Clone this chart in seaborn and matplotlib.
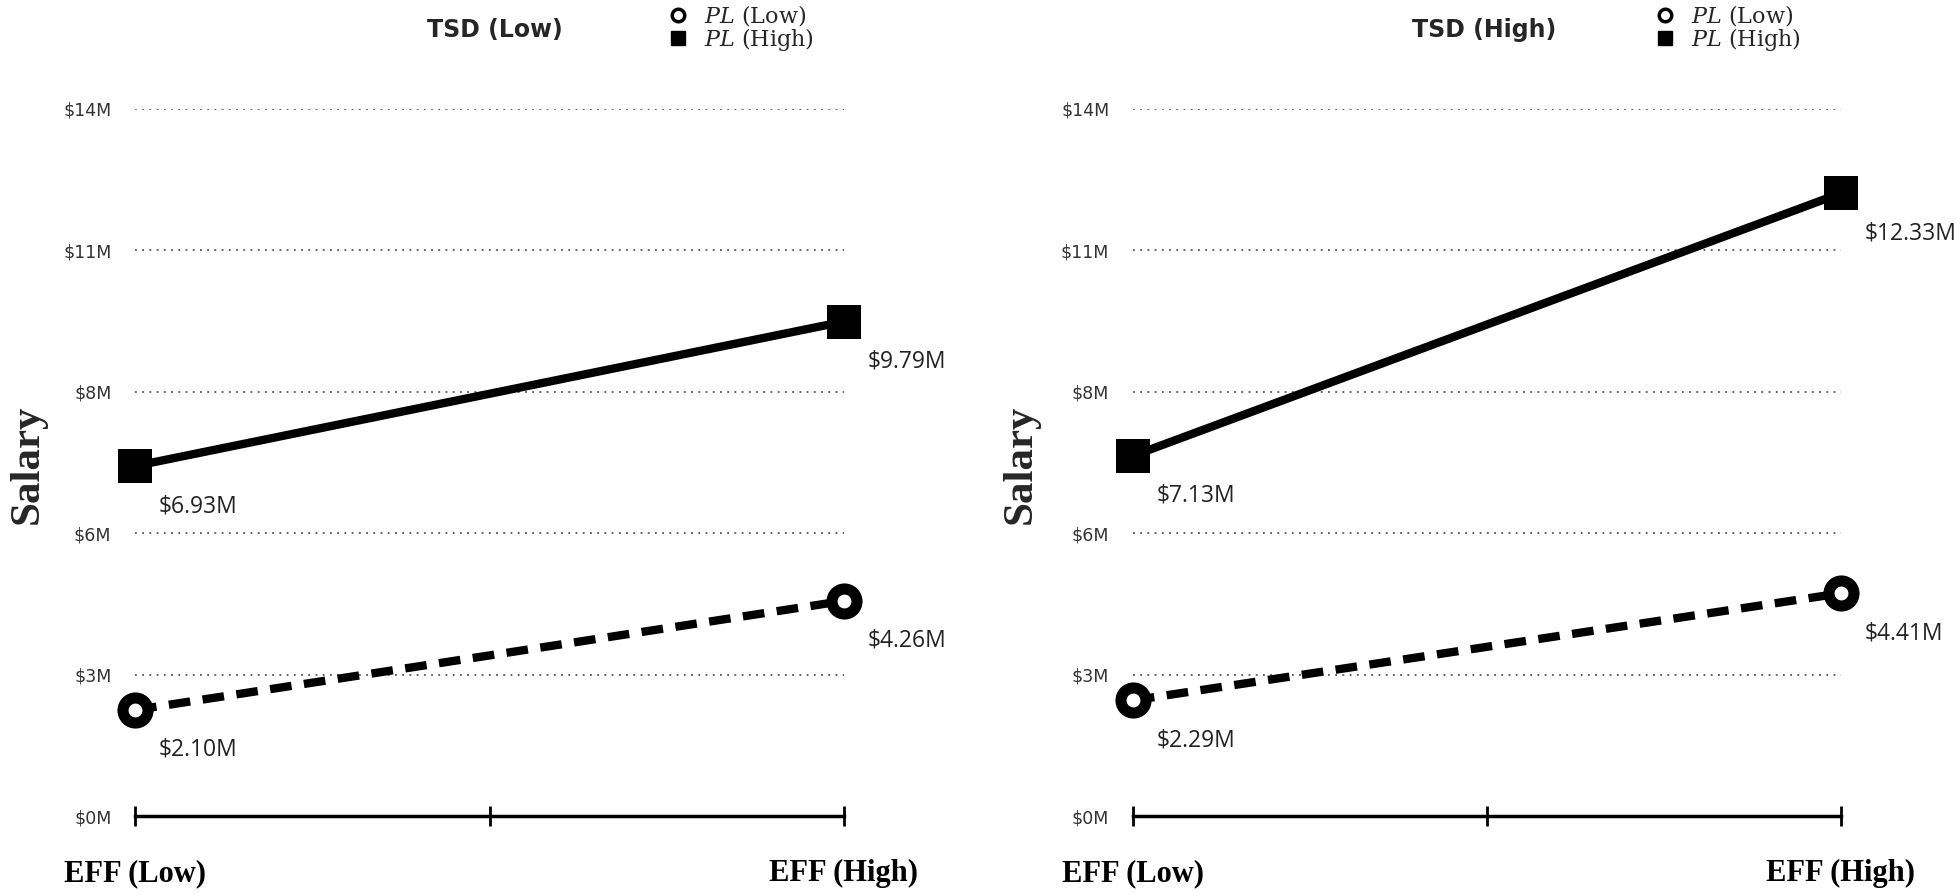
import matplotlib
matplotlib.use('Agg')
import matplotlib.pyplot as plt
import seaborn as sns
import pandas as pd
from matplotlib.lines import Line2D
from matplotlib.ticker import FuncFormatter

# Data
panels = ['TSD (Low)', 'TSD (High)']
eff_labels = ['EFF (Low)', 'EFF (High)']
eff_pos = [0, 1]
pl_low = {'TSD (Low)': [2.10, 4.26], 'TSD (High)': [2.29, 4.41]}
pl_high = {'TSD (Low)': [6.93, 9.79], 'TSD (High)': [7.13, 12.33]}
y_ticks = [0, 2.8, 5.6, 8.4, 11.2, 14]

rows = []
for p in panels:
    for x, v in zip(eff_pos, pl_low[p]):
        rows.append({'panel': p, 'eff': x, 'pl': 'PL (Low)', 'salary': v})
    for x, v in zip(eff_pos, pl_high[p]):
        rows.append({'panel': p, 'eff': x, 'pl': 'PL (High)', 'salary': v})
df = pd.DataFrame(rows)

sns.set_style('white')
plt.rcParams['mathtext.fontset'] = 'custom'
plt.rcParams['mathtext.it'] = 'DejaVu Serif:italic'
plt.rcParams['mathtext.rm'] = 'DejaVu Serif'

sans = ['DejaVu Sans']
serif = ['Liberation Serif', 'DejaVu Serif']

fig = plt.figure(figsize=(19.6, 8.94), dpi=100)
ax_pos = [[0.0689, 0.0872, 0.3617, 0.791], [0.578, 0.0872, 0.3612, 0.791]]
ylabel_x = [-0.124, -0.131]
legend_x = [0.735, 0.720]
title_x = [0.508, 0.496]

for i, p in enumerate(panels):
    ax = fig.add_axes(ax_pos[i])
    sub = df[df['panel'] == p]

    # PL (Low): dashed with open circles
    sns.lineplot(data=sub[sub['pl'] == 'PL (Low)'], x='eff', y='salary', ax=ax,
                 color='black', lw=6, linestyle=(0, (2.6, 1.5)), marker='o',
                 markersize=18, markerfacecolor='white', markeredgecolor='black',
                 markeredgewidth=8, errorbar=None, clip_on=False, zorder=3)
    # PL (High): solid with squares
    sns.lineplot(data=sub[sub['pl'] == 'PL (High)'], x='eff', y='salary', ax=ax,
                 color='black', lw=6, marker='s', markersize=24,
                 markeredgewidth=0, errorbar=None, clip_on=False, zorder=3)

    for series in (pl_low[p], pl_high[p]):
        for x, v in zip(eff_pos, series):
            ax.annotate(f"${v:.2f}M", (x, v), xytext=(24, -40),
                        textcoords='offset pixels', ha='left', va='center',
                        fontsize=16.5, family='Open Sans', color='#222222')

    ax.set_xlim(0, 1)
    ax.set_ylim(0, 14)
    ax.set_yticks(y_ticks)
    ax.yaxis.set_major_formatter(FuncFormatter(lambda v, _: f"${v:.0f}M"))
    ax.set_xticks([0, 0.5, 1])
    ax.set_xticklabels([eff_labels[0], '', eff_labels[1]])
    for lab in ax.get_xticklabels():
        lab.set_family(serif)
        lab.set_fontweight('bold')
        lab.set_fontsize(22)
    for lab in ax.get_yticklabels():
        lab.set_family(sans)
        lab.set_fontsize(12.5)
        lab.set_color('#333333')
    ax.tick_params(axis='x', direction='inout', length=14, width=2, pad=24,
                   bottom=True, colors='black')
    ax.tick_params(axis='y', length=0, pad=17)

    for s in ('left', 'top', 'right'):
        ax.spines[s].set_visible(False)
    ax.spines['bottom'].set_linewidth(2.5)
    ax.spines['bottom'].set_color('black')
    ax.yaxis.grid(True, linestyle=(0, (1, 3)), color='#555555', lw=1.3)
    ax.xaxis.grid(False)
    ax.set_axisbelow(True)

    ax.set_xlabel('')
    ax.set_ylabel('Salary', fontsize=31, fontweight='bold', family=serif)
    ax.yaxis.set_label_coords(ylabel_x[i], 0.498)

    ax.text(title_x[i], 1.112, p, transform=ax.transAxes, ha='center', va='center',
            fontsize=17, fontweight='bold', family=sans)

    handles = [
        Line2D([], [], marker='o', ls='none', color='black', markerfacecolor='white',
               markeredgewidth=2.5, markersize=9),
        Line2D([], [], marker='s', ls='none', color='black', markersize=10),
    ]
    ax.legend(handles, [r'$\mathit{PL}$ (Low)', r'$\mathit{PL}$ (High)'],
              loc='upper left', bbox_to_anchor=(legend_x[i], 1.165), frameon=False,
              borderpad=0, handlelength=1, handletextpad=0.66, labelspacing=-0.12,
              prop={'family': 'DejaVu Serif', 'size': 16})

fig.savefig('out.png', dpi=100)
